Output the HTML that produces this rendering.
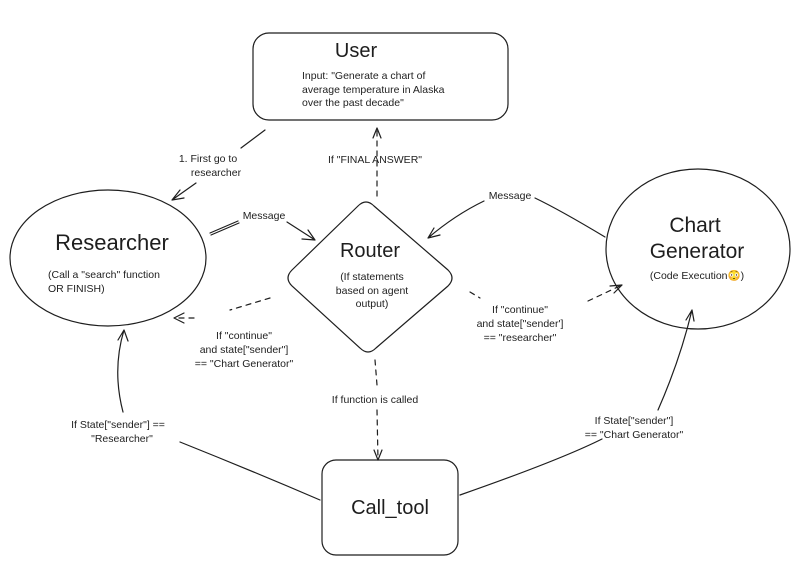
<!DOCTYPE html>
<html><head><style>
html,body{margin:0;padding:0;background:#fff;}
svg{display:block;}
text{font-family:"Liberation Sans",sans-serif;fill:#1e1e1e;}
.s{font-size:10.5px;}
</style></head><body>
<svg width="801" height="573" viewBox="0 0 801 573" xmlns="http://www.w3.org/2000/svg" fill="none" stroke="#1e1e1e" stroke-width="1.2" stroke-linecap="round">
<!-- User -->
<rect x="253" y="33" width="255" height="87" rx="16"/>
<text x="356" y="57" style="font-size:20px" stroke="none" text-anchor="middle">User</text>
<text x="302" y="79" class="s" stroke="none">Input: "Generate a chart of</text>
<text x="302" y="93" class="s" stroke="none">average temperature in Alaska</text>
<text x="302" y="106" class="s" stroke="none">over the past decade"</text>
<!-- Researcher -->
<ellipse cx="108" cy="258" rx="98" ry="68"/>
<text x="112" y="250" style="font-size:22px" stroke="none" text-anchor="middle">Researcher</text>
<text x="48" y="278" class="s" stroke="none">(Call a "search" function</text>
<text x="48" y="292" class="s" stroke="none">OR FINISH)</text>
<!-- Chart Generator -->
<ellipse cx="698" cy="249" rx="92" ry="80"/>
<text x="695" y="232" style="font-size:21px" stroke="none" text-anchor="middle">Chart</text>
<text x="697" y="258" style="font-size:21px" stroke="none" text-anchor="middle">Generator</text>
<text x="697" y="279" class="s" stroke="none" text-anchor="middle">(Code Execution😳)</text>
<!-- Router -->
<path d="M358 206 Q366 198 374 206 L448 270 Q456 278 448 286 L376 348 Q368 356 360 348 L292 286 Q284 278 292 270 Z"/>
<text x="370" y="257" style="font-size:20px" stroke="none" text-anchor="middle">Router</text>
<text x="372" y="280" class="s" stroke="none" text-anchor="middle">(If statements</text>
<text x="372" y="294" class="s" stroke="none" text-anchor="middle">based on agent</text>
<text x="372" y="307" class="s" stroke="none" text-anchor="middle">output)</text>
<!-- Call_tool -->
<rect x="322" y="460" width="136" height="95" rx="14"/>
<text x="390" y="514" style="font-size:20px" stroke="none" text-anchor="middle">Call_tool</text>
<!-- User -> Researcher -->
<path d="M265 130 L241 148"/>
<path d="M196 183 L172 200 M172 200 L180 190 M172 200 L184 198"/>
<text x="208" y="162" class="s" stroke="none" text-anchor="middle">1. First go to</text>
<text x="216" y="176" class="s" stroke="none" text-anchor="middle">researcher</text>
<!-- Researcher -> Router Message -->
<path d="M210 233 L238 221 M211 235 L239 223"/>
<text x="264" y="219" class="s" stroke="none" text-anchor="middle">Message</text>
<path d="M287 222 L315 240 M315 240 L302 239 M315 240 L308 230"/>
<!-- Router -> User dashed -->
<path d="M377 196 L377 128" stroke-dasharray="5 5"/>
<path d="M377 128 L373 138 M377 128 L381 138"/>
<text x="375" y="163" class="s" stroke="none" text-anchor="middle">If "FINAL ANSWER"</text>
<!-- Chart -> Router Message -->
<path d="M605 237 Q560 210 535 198"/>
<text x="510" y="199" class="s" stroke="none" text-anchor="middle">Message</text>
<path d="M484 201 Q455 215 428 238 M428 238 L440 235 M428 238 L434 228"/>
<!-- Router -> Chart dashed -->
<path d="M470 292 L480 298" stroke-dasharray="5 5"/>
<path d="M588 301 L622 285" stroke-dasharray="5 5"/>
<path d="M622 285 L610 286 M622 285 L614 293"/>
<text x="520" y="313" class="s" stroke="none" text-anchor="middle">If "continue"</text>
<text x="520" y="327" class="s" stroke="none" text-anchor="middle">and state["sender']</text>
<text x="520" y="341" class="s" stroke="none" text-anchor="middle">== "researcher"</text>
<!-- Router -> Researcher dashed -->
<path d="M270 298 L230 310 M194 318 L174 318" stroke-dasharray="5 5"/>
<path d="M174 318 L184 313 M174 318 L184 323"/>
<text x="244" y="339" class="s" stroke="none" text-anchor="middle">If "continue"</text>
<text x="244" y="353" class="s" stroke="none" text-anchor="middle">and state["sender"]</text>
<text x="244" y="367" class="s" stroke="none" text-anchor="middle">== "Chart Generator"</text>
<!-- Router -> Call_tool dashed -->
<path d="M375 360 L377 385 M377 410 L378 460" stroke-dasharray="5 5"/>
<path d="M378 460 L374 450 M378 460 L382 450"/>
<text x="375" y="403" class="s" stroke="none" text-anchor="middle">If function is called</text>
<!-- Call_tool -> Researcher -->
<path d="M320 500 Q250 470 180 442"/>
<path d="M123 412 Q112 370 124 330 M124 330 L118 340 M124 330 L128 341"/>
<text x="118" y="428" class="s" stroke="none" text-anchor="middle">If State["sender"] ==</text>
<text x="122" y="442" class="s" stroke="none" text-anchor="middle">"Researcher"</text>
<!-- Call_tool -> Chart -->
<path d="M460 495 Q560 460 602 439"/>
<path d="M658 410 Q680 360 692 310 M692 310 L686 320 M692 310 L694 321"/>
<text x="634" y="424" class="s" stroke="none" text-anchor="middle">If State["sender"]</text>
<text x="634" y="438" class="s" stroke="none" text-anchor="middle">== "Chart Generator"</text>
</svg>
</body></html>
